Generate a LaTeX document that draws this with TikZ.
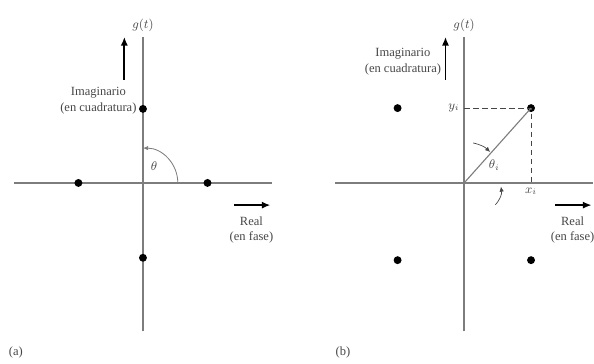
\documentclass[tikz,border=0pt]{standalone}
\usepackage{fontspec}
\setmainfont{Liberation Serif}
\usepackage{xcolor}
\definecolor{figaxis}{RGB}{125,125,125}
\definecolor{figink}{RGB}{70,70,70}
\usepackage{tikz}
\usetikzlibrary{arrows.meta,positioning,calc}

\tikzset{
  axisline/.style={figaxis,line width=0.9pt},
  dirarrow/.style={black,line width=1.4pt,-{Latex[length=2.2mm,width=1.8mm]}},
  tinyarrow/.style={figink,line width=0.5pt,-{Latex[length=1.3mm,width=1.1mm]}},
  symdot/.style={circle,fill=black,inner sep=0pt,minimum size=2mm},
  axislabel/.style={figink,align=center},
}

\begin{document}
\begin{tikzpicture}[font=\small]
\useasboundingbox (0,0) rectangle (15,9.19);
% common axes and labels of both panels
\foreach \ox/\pn in {3.61/a, 11.72/b} {
  \begin{scope}[shift={(\ox,4.57)}]
    \coordinate (\pn O) at (0,0);
    \coordinate (\pn W) at (-3.25,0);
    \coordinate (\pn E) at (3.26,0);
    \coordinate (\pn S) at (0,-3.75);
    \coordinate (\pn N) at (0,3.69);
    \draw[axisline] (\pn W) -- (\pn E);
    \draw[axisline] (\pn S) -- (\pn N);
    \node[figink,anchor=south] (\pn g) at (\pn N) {$g(t)$};
    \coordinate (\pn up0) at (-0.47,2.60);
    \coordinate (\pn up1) at (-0.47,3.69);
    \draw[dirarrow] (\pn up0) -- (\pn up1);
    \coordinate (\pn re0) at (2.30,-0.56);
    \coordinate (\pn re1) at (3.22,-0.56);
    \draw[dirarrow] (\pn re0) -- (\pn re1);
    \node[axislabel] (\pn real) at (2.74,-1.19) {Real\\(en fase)};
  \end{scope}
}
% panel (a)
\begin{scope}[shift={(3.61,4.57)}]
  \foreach \x/\y/\n in {0/1.87/n, -1.63/0/w, 1.63/0/e, 0/-1.89/s}
    \node[symdot] (a\n) at (\x,\y) {};
  \node[axislabel,anchor=east] (aimag) at (-0.04,2.08) {Imaginario\\(en cuadratura)};
  \coordinate (aarc) at (0.88,0);
  \draw[figaxis,line width=0.6pt,-{Latex[length=1.3mm,width=1.1mm]}] (aarc) arc[start angle=0,end angle=90,radius=0.88];
  \node[figink] (atheta) at (0.28,0.42) {$\theta$};
\end{scope}
% panel (b)
\begin{scope}[shift={(11.72,4.57)}]
  \foreach \x/\y/\n in {-1.68/1.89/nw, 1.69/1.89/ne, -1.68/-1.95/sw, 1.69/-1.95/se}
    \node[symdot] (b\n) at (\x,\y) {};
  \node[axislabel,anchor=east] (bimag) at (-0.46,3.06) {Imaginario\\(en cuadratura)};
  \coordinate (byax) at (0,1.89);
  \coordinate (bxax) at (1.69,0);
  \draw[figink,line width=0.7pt,dash pattern=on 4pt off 2.5pt] (byax) -- (bne.center) -- (bxax);
  \draw[figaxis,line width=0.8pt] (bO) -- (bne.center);
  \node[figink,anchor=east] (byi) at (byax) {$y_i$};
  \node[figink,anchor=north] (bxi) at (bxax) {$x_i$};
  \node[figink] (btheta) at (0.76,0.45) {$\theta_i$};
  \coordinate (bt0) at (0.23,1.01);
  \coordinate (bt1) at (0.66,0.78);
  \draw[tinyarrow] (bt0) to[bend left=15] (bt1);
  \coordinate (bt2) at (0.79,-0.55);
  \coordinate (bt3) at (0.93,-0.09);
  \draw[tinyarrow] (bt2) to[bend right=25] (bt3);
\end{scope}
\node[figink] (cap a) at (0.40,0.30) {(a)};
\node[figink] (cap b) at (8.66,0.30) {(b)};
\end{tikzpicture}
\end{document}
